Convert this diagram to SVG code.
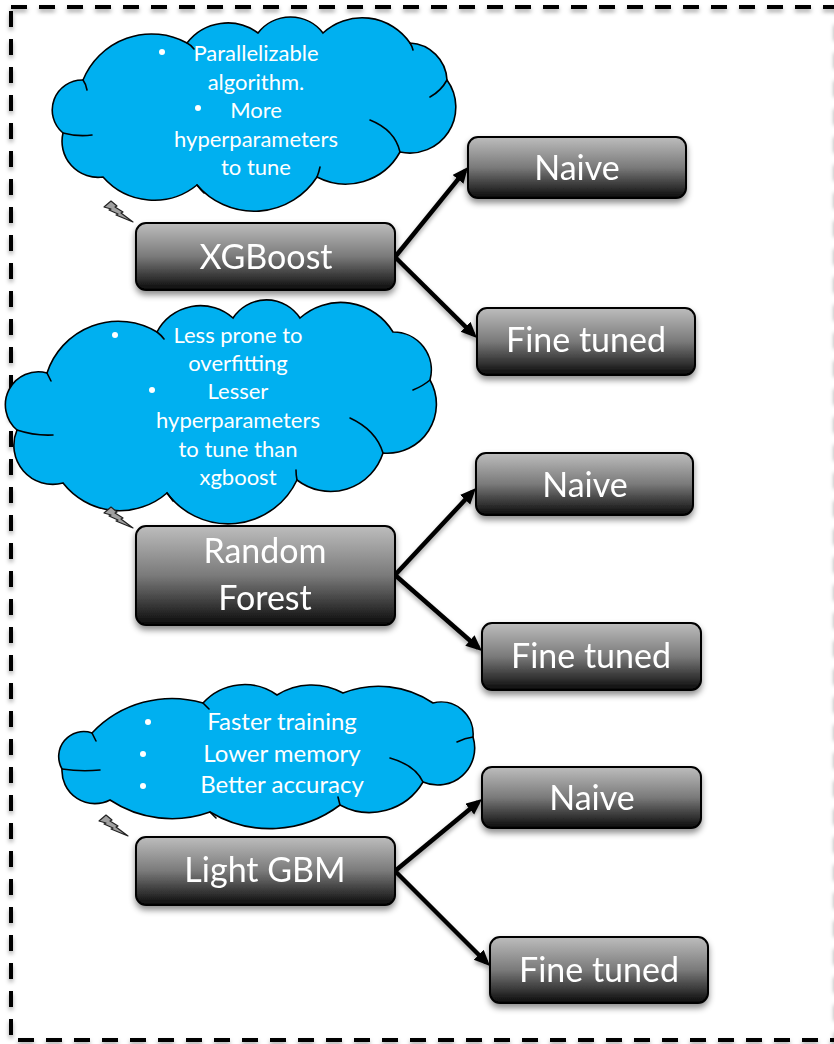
<svg xmlns="http://www.w3.org/2000/svg" width="834" height="1044" viewBox="0 0 834 1044">
  <defs>
    <linearGradient id="boxFill" x1="0" y1="0" x2="0" y2="1">
      <stop offset="0" stop-color="#bdbdbd"/>
      <stop offset="0.5" stop-color="#7a7a7a"/>
      <stop offset="1" stop-color="#0a0a0a"/>
    </linearGradient>
    <filter id="shadow" x="-10%" y="-20%" width="120%" height="150%">
      <feDropShadow dx="0" dy="4" stdDeviation="3" flood-color="#000" flood-opacity="0.45"/>
    </filter>
    <filter id="lineShadow" x="-5%" y="-5%" width="110%" height="110%">
      <feDropShadow dx="0" dy="3" stdDeviation="2" flood-color="#000" flood-opacity="0.35"/>
    </filter>
    <marker id="arrow" markerUnits="userSpaceOnUse" markerWidth="18" markerHeight="16" refX="11" refY="7" orient="auto">
      <path d="M0,0 L16,7 L0,14 z" fill="#000"/>
    </marker>
    <symbol id="bolt" viewBox="0 0 31 23">
      <polygon points="1,7 8,1 14,6 12,7 20,12 18,13 30,22 13,15 15,14 6,10 8,9" fill="#a0a0a0" stroke="#222" stroke-width="1.2" stroke-linejoin="round"/>
    </symbol>
  </defs>
  <style>
    .frame { fill: none; stroke: #000; stroke-width: 4; stroke-dasharray: 16 12; }
    .box { fill: url(#boxFill); stroke: #000; stroke-width: 2; }
    .label { fill: #fff; font-family: Lato, "Liberation Sans", sans-serif; font-size: 34px; text-anchor: middle; }
    .cloud { fill: #00b0f0; stroke: #000; stroke-width: 1.6; }
    .inner { fill: none; stroke: #000; stroke-width: 1.6; stroke-linecap: round; }
    .note { fill: #fff; font-family: Lato, "Liberation Sans", sans-serif; font-size: 22px; text-anchor: middle; }
    .note.big { font-size: 24px; }
    .bullet { fill: #fff; }
    .conn { fill: none; stroke: #000; stroke-width: 4.5; marker-end: url(#arrow); }
  </style>

  <rect class="frame" x="11" y="7" width="825" height="1033" filter="url(#lineShadow)"/>

  <!-- thought clouds -->
  <g id="cloud-xgboost">
    <path class="cloud" d="M83,80 A74,74 0 0 1 187,43 A51,51 0 0 1 258,33 A41,41 0 0 1 323,33 A58,58 0 0 1 410,43 A39,39 0 0 1 447,80 A46,46 0 0 1 400,152 A62,62 0 0 1 317,177 A75,75 0 0 1 197,185 A68,68 0 0 1 103,177 A36,36 0 0 1 63,133 A30,30 0 0 1 83,80 Z"/>
    <path class="inner" d="M447,80 Q441,91 430,97 M370,120 Q395,130 400,152 M63,133 Q78,137 92,135 M83,80 Q86,84 87,90 M187,43 Q191,45 194,49 M197,185 Q200,189 204,193 M317,177 Q319,172 320,167 M410,43 Q412,46 413,50"/>
    <use href="#bolt" x="103" y="200" width="31" height="23"/>
    <circle class="bullet" cx="162" cy="52" r="3"/>
    <circle class="bullet" cx="198" cy="108" r="3"/>
    <text class="note" x="256" y="61">Parallelizable</text>
    <text class="note" x="256" y="90">algorithm.</text>
    <text class="note" x="256" y="118">More</text>
    <text class="note" x="256" y="147">hyperparameters</text>
    <text class="note" x="256" y="175">to tune</text>
  </g>

  <g id="cloud-random-forest">
    <path class="cloud" d="M47,373 A75,75 0 0 1 157,332 A49,49 0 0 1 233,318 A40,40 0 0 1 300,318 A61,61 0 0 1 393,332 A38,38 0 0 1 430,380 A49,49 0 0 1 383,453 A55,55 0 0 1 297,480 A76,76 0 0 1 167,493 A72,72 0 0 1 63,483 A39,39 0 0 1 17,430 A33,33 0 0 1 47,373 Z"/>
    <path class="inner" d="M17,430 Q35,436 53,435 M350,418 Q376,430 383,453 M413,390 Q423,386 430,380 M47,373 Q49,377 51,381 M157,332 Q161,335 164,339 M297,480 Q296,475 296,470 M167,493 Q170,497 173,501"/>
    <use href="#bolt" x="103" y="506" width="31" height="23"/>
    <circle class="bullet" cx="115" cy="335" r="3"/>
    <circle class="bullet" cx="152" cy="390" r="3"/>
    <text class="note" x="238" y="343">Less prone to</text>
    <text class="note" x="238" y="371">overfitting</text>
    <text class="note" x="238" y="399">Lesser</text>
    <text class="note" x="238" y="428">hyperparameters</text>
    <text class="note" x="238" y="457">to tune than</text>
    <text class="note" x="238" y="485">xgboost</text>
  </g>

  <g id="cloud-light-gbm">
    <path class="cloud" d="M92,733 A110,110 0 0 1 203,703 A56,56 0 0 1 277,695 A65,65 0 0 1 343,693 A97,97 0 0 1 433,703 A32,32 0 0 1 473,737 A37,37 0 0 1 423,782 A62,62 0 0 1 340,805 A116,116 0 0 1 210,812 A112,112 0 0 1 110,800 A33,33 0 0 1 62,769 A25,25 0 0 1 92,733 Z"/>
    <path class="inner" d="M62,769 Q81,772 100,770 M390,758 Q415,765 423,782 M457,742 Q465,738 473,737 M92,733 Q94,737 96,741 M203,703 Q206,706 209,709 M340,805 Q339,801 338,797 M210,812 Q213,815 216,818"/>
    <use href="#bolt" x="98" y="814" width="31" height="23"/>
    <circle class="bullet" cx="148" cy="722" r="3"/>
    <circle class="bullet" cx="143" cy="754" r="3"/>
    <circle class="bullet" cx="143" cy="786" r="3"/>
    <text class="note big" x="282" y="730">Faster training</text>
    <text class="note big" x="282" y="762">Lower memory</text>
    <text class="note big" x="282" y="793">Better accuracy</text>
  </g>

  <!-- connectors -->
  <g id="connectors" filter="url(#lineShadow)">
    <path class="conn" d="M395,257 L464.9,170.8"/>
    <path class="conn" d="M395,257 L473.4,334.5"/>
    <path class="conn" d="M395,575 L472.6,491.7"/>
    <path class="conn" d="M395,575 L478.2,647.7"/>
    <path class="conn" d="M395,871 L478.2,802.2"/>
    <path class="conn" d="M395,871 L486.5,962.5"/>
  </g>

  <!-- model nodes -->
  <g id="xgboost" filter="url(#shadow)">
    <rect class="box" x="136" y="223" width="259" height="67" rx="10"/>
    <text class="label" x="266" y="269">XGBoost</text>
  </g>
  <g id="xgboost-naive" filter="url(#shadow)">
    <rect class="box" x="468" y="137" width="218" height="61" rx="10"/>
    <text class="label" x="577" y="180">Naive</text>
  </g>
  <g id="xgboost-fine-tuned" filter="url(#shadow)">
    <rect class="box" x="477" y="308" width="218" height="67" rx="10"/>
    <text class="label" x="586" y="352">Fine tuned</text>
  </g>

  <g id="random-forest" filter="url(#shadow)">
    <rect class="box" x="136" y="526" width="259" height="99" rx="10"/>
    <text class="label" x="265" y="563">Random</text>
    <text class="label" x="265" y="610">Forest</text>
  </g>
  <g id="random-forest-naive" filter="url(#shadow)">
    <rect class="box" x="476" y="453" width="217" height="62" rx="10"/>
    <text class="label" x="585" y="497">Naive</text>
  </g>
  <g id="random-forest-fine-tuned" filter="url(#shadow)">
    <rect class="box" x="482" y="623" width="219" height="67" rx="10"/>
    <text class="label" x="591" y="668">Fine tuned</text>
  </g>

  <g id="light-gbm" filter="url(#shadow)">
    <rect class="box" x="136" y="837" width="259" height="68" rx="10"/>
    <text class="label" x="265" y="882">Light GBM</text>
  </g>
  <g id="light-gbm-naive" filter="url(#shadow)">
    <rect class="box" x="482" y="767" width="219" height="61" rx="10"/>
    <text class="label" x="592" y="810">Naive</text>
  </g>
  <g id="light-gbm-fine-tuned" filter="url(#shadow)">
    <rect class="box" x="490" y="937" width="218" height="66" rx="10"/>
    <text class="label" x="599" y="982">Fine tuned</text>
  </g>
</svg>
